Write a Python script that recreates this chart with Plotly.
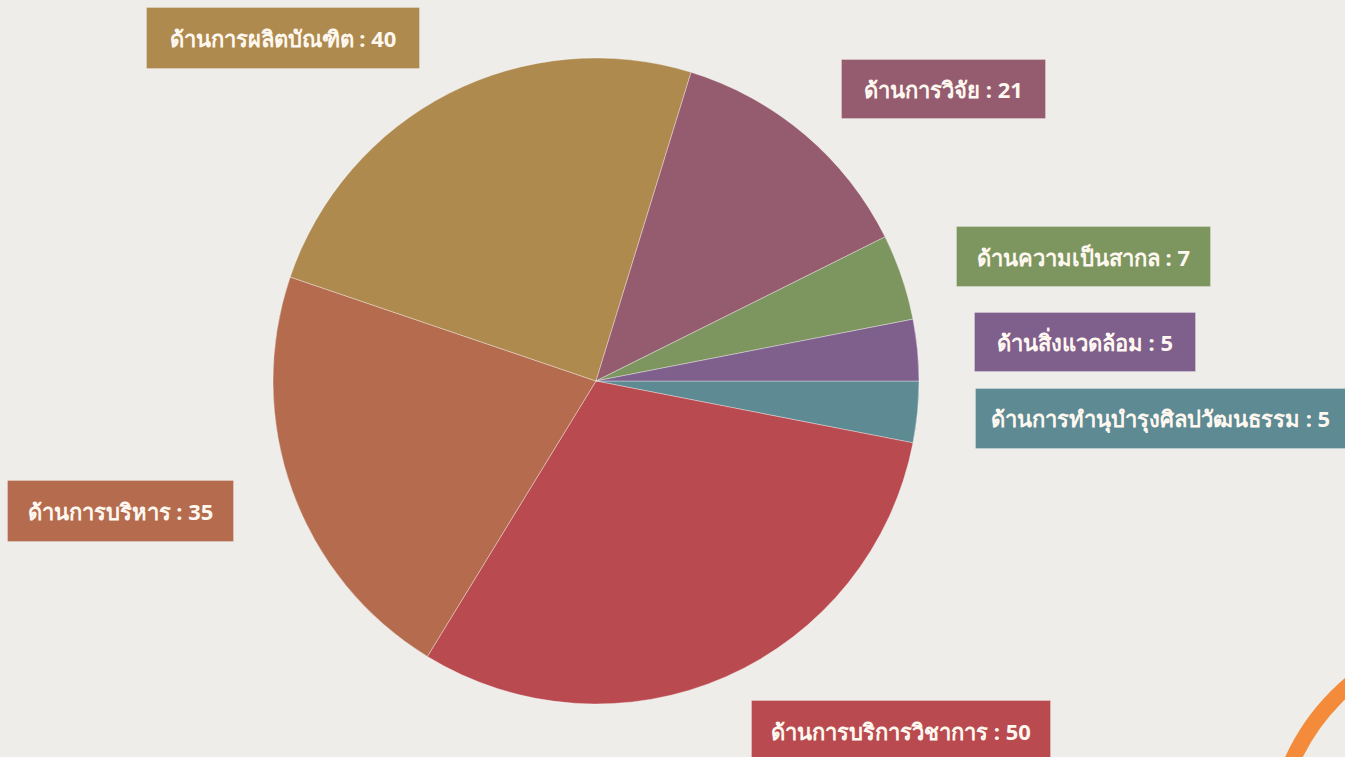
import plotly.graph_objects as go

# ---- data ----
labels = [
    "ด้านการทำนุบำรุงศิลปวัฒนธรรม",
    "ด้านการบริการวิชาการ",
    "ด้านการบริหาร",
    "ด้านการผลิตบัณฑิต",
    "ด้านการวิจัย",
    "ด้านความเป็นสากล",
    "ด้านสิ่งแวดล้อม",
]
values = [5, 50, 35, 40, 21, 7, 5]
colors = ["#5D8A93", "#B94A4F", "#B46B4E", "#AE8A4E", "#955B6E", "#7D9660", "#7F5F8C"]

W, H = 1345, 757

# label box layout (pixel centres / sizes) - layout only
boxes = {
    "ด้านการทำนุบำรุงศิลปวัฒนธรรม": dict(x=975, y=418, w=400, h=59, anchor="left"),
    "ด้านการบริการวิชาการ": dict(x=901, y=731, w=298, h=60, anchor="center"),
    "ด้านการบริหาร": dict(x=120, y=511, w=225, h=60, anchor="center"),
    "ด้านการผลิตบัณฑิต": dict(x=283, y=38, w=272, h=60, anchor="center"),
    "ด้านการวิจัย": dict(x=943, y=89, w=203, h=58, anchor="center"),
    "ด้านความเป็นสากล": dict(x=1083, y=256, w=253, h=59, anchor="center"),
    "ด้านสิ่งแวดล้อม": dict(x=1085, y=342, w=220, h=58, anchor="center"),
}

FONT = "Tahoma, 'Noto Sans', 'DejaVu Sans', sans-serif"

fig = go.Figure(
    go.Pie(
        labels=labels,
        values=values,
        sort=False,
        direction="clockwise",
        rotation=90,
        marker=dict(colors=colors, line=dict(color="rgba(255,255,255,0.35)", width=1)),
        textinfo="none",
        hoverinfo="label+value",
        domain=dict(x=[(596 - 323) / W, (596 + 323) / W], y=[1 - 704 / H, 1 - 58 / H]),
        showlegend=False,
    )
)

annotations = []
for lab, val, col in zip(labels, values, colors):
    b = boxes[lab]
    if b["anchor"] == "left":
        pad = 15
        annotations.append(dict(
            x=b["x"] / W, y=1 - b["y"] / H, xref="paper", yref="paper",
            xanchor="left", yanchor="middle",
            text=f"<b>{lab} : {val}</b>", showarrow=False,
            width=b["w"] - 2 * pad, height=b["h"] - 2 * pad, align="left",
            bgcolor=col, borderpad=pad, bordercolor="rgba(255,255,255,0.25)", borderwidth=1,
            font=dict(family=FONT, size=22, color="#FFF8F0"),
        ))
    else:
        annotations.append(dict(
            x=b["x"] / W, y=1 - b["y"] / H, xref="paper", yref="paper",
            xanchor="center", yanchor="middle",
            text=f"<b>{lab} : {val}</b>", showarrow=False,
            width=b["w"], height=b["h"], align="center",
            bgcolor=col, borderpad=0, bordercolor="rgba(255,255,255,0.25)", borderwidth=1,
            font=dict(family=FONT, size=22, color="#FFF8F0"),
        ))

# decorative orange arc in the bottom-right corner
cx, cy, r = 1490, 850, 217
shapes = [dict(
    type="circle", xref="paper", yref="paper",
    x0=(cx - r) / W, x1=(cx + r) / W, y0=1 - (cy + r) / H, y1=1 - (cy - r) / H,
    line=dict(color="#F48B3B", width=16), fillcolor="rgba(0,0,0,0)",
)]

fig.update_layout(
    width=W, height=H,
    margin=dict(l=0, r=0, t=0, b=0),
    paper_bgcolor="#EEEDE9",
    plot_bgcolor="#EEEDE9",
    annotations=annotations,
    shapes=shapes,
)

fig.write_html(
    "out.html",
    config={"displayModeBar": False},
    post_script="document.body.style.margin='0';document.body.style.background='#EEEDE9';",
)
